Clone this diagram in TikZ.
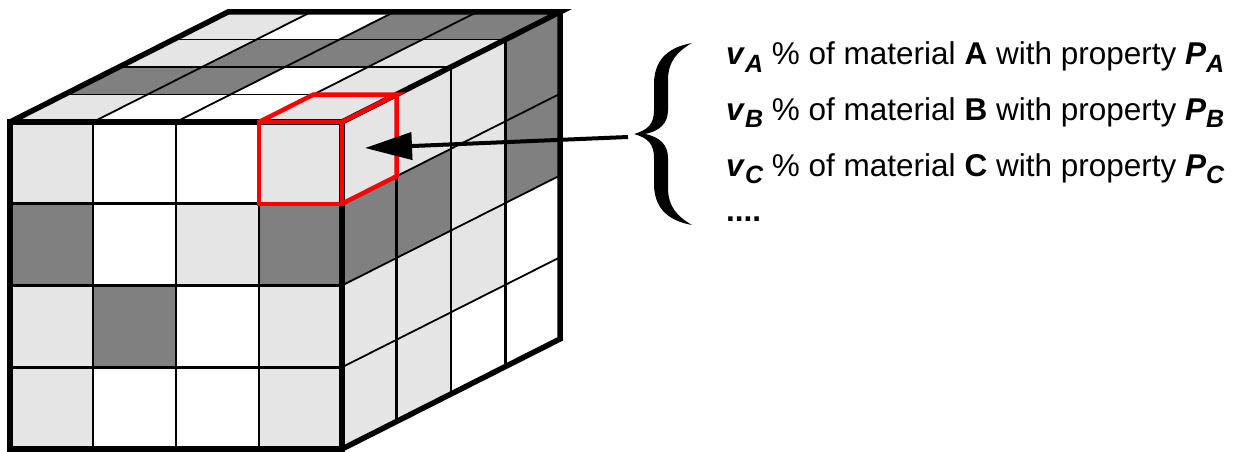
\documentclass[tikz,border=0pt]{standalone}
\usepackage{fontspec}
\setmainfont{Liberation Sans}
\usetikzlibrary{arrows.meta}
\definecolor{lg}{gray}{0.9}
\definecolor{dg}{gray}{0.5}
\newcommand\mysub[1]{\raisebox{-7.5pt}{\fontsize{25}{25}\selectfont\bfseries\itshape #1}}
\newcommand\matline[1]{\textbf{\textit{v}}\mysub{#1} \% of material \textbf{#1} with property \textbf{\textit{P}}\mysub{#1}}
\tikzset{
  thin grid/.style={line width=1.8pt, black},
  front grid/.style={line width=2.6pt, black},
  outline/.style={line width=5.5pt, black, line join=miter},
  redbox/.style={line width=4.5pt, red, line join=miter},
  label/.style={anchor=base west, inner sep=0pt, font=\fontsize{31.5}{36}\selectfont},
}
\begin{document}
\begin{tikzpicture}[x=1pt,y=-1pt]
\useasboundingbox (0,0) rectangle (1242,452);
% front face fills
\foreach \c/\r/\col in {0/0/lg,1/0/white,2/0/white,3/0/lg,
                        0/1/dg,1/1/white,2/1/lg,3/1/dg,
                        0/2/lg,1/2/dg,2/2/white,3/2/lg,
                        0/3/lg,1/3/white,2/3/white,3/3/lg}
  \fill[\col] ({10+83*\c},{122+81.75*\r}) rectangle ++(83,81.75);
% top face fills (d: 0 = front row)
\foreach \c/\d/\col in {0/0/lg,1/0/white,2/0/white,3/0/lg,
                        0/1/dg,1/1/dg,2/1/white,3/1/lg,
                        0/2/lg,1/2/dg,2/2/dg,3/2/lg,
                        0/3/lg,1/3/white,2/3/dg,3/3/dg}
  \fill[\col] ({10+83*\c+54.5*\d},{122-27.5*\d}) -- ++(83,0) -- ++(54.5,-27.5) -- ++(-83,0) -- cycle;
% right face fills (t: 0 = front column)
\foreach \t/\r/\col in {0/0/lg,0/1/dg,0/2/lg,0/3/lg,
                        1/0/lg,1/1/dg,1/2/lg,1/3/lg,
                        2/0/lg,2/1/lg,2/2/lg,2/3/white,
                        3/0/dg,3/1/dg,3/2/white,3/3/white}
  \fill[\col] ({342+54.5*\t},{122-27.5*\t+81.75*\r}) -- ++(54.5,-27.5) -- ++(0,81.75) -- ++(-54.5,27.5) -- cycle;
% grid lines
\foreach \i in {1,2,3} {
  \draw[front grid] ({10+83*\i},122) -- ({10+83*\i},449);
  \draw[front grid] (10,{122+81.75*\i}) -- (342,{122+81.75*\i});
  \draw[thin grid] ({10+54.5*\i},{122-27.5*\i}) -- ({342+54.5*\i},{122-27.5*\i});
  \draw[thin grid] ({10+83*\i},122) -- ({228+83*\i},12);
  \draw[front grid] ({342+54.5*\i},{122-27.5*\i}) -- ({342+54.5*\i},{449-27.5*\i});
  \draw[thin grid] (342,{122+81.75*\i}) -- (560,{12+81.75*\i});
}
% outlines
\draw[outline] (10,122) rectangle (342,449);
\draw[outline] (10,122) -- (228,12) -- (560,12) -- (342,122);
\draw[outline] (560,12) -- (560,339) -- (342,449);
% red highlighted cell
\draw[redbox] (259,122) rectangle (342,203.75);
\draw[redbox] (259,122) -- (313.5,94.5) -- (396.5,94.5) -- (342,122);
\draw[redbox] (396.5,94.5) -- (396.5,176.25) -- (342,203.75);
% brace
\fill[black] (692,43) .. controls (670,47) and (655,58) .. (654,82) -- (654,110)
  .. controls (654,124) and (648,130) .. (634,134)
  .. controls (648,138) and (654,144) .. (654,158) -- (654,186)
  .. controls (655,210) and (670,221) .. (692,225)
  .. controls (678,217) and (668,207) .. (668,188) -- (668,158)
  .. controls (668,145) and (660,137) .. (645,134)
  .. controls (660,131) and (668,123) .. (668,110) -- (668,80)
  .. controls (668,61) and (678,51) .. (692,43) -- cycle;
% arrow
\coordinate (astart) at (628,137);
\coordinate (atip) at (365,148);
\draw[line width=4pt, -{Triangle[length=47pt,width=27pt]}] (astart) -- (atip);
% labels
\node[label] (la) at (726,65) {\matline{A}};
\node[label] (lb) at (726,120) {\matline{B}};
\node[label] (lc) at (726,176) {\matline{C}};
\node[label] (ld) at (726,221) {\textbf{....}};
\end{tikzpicture}
\end{document}
